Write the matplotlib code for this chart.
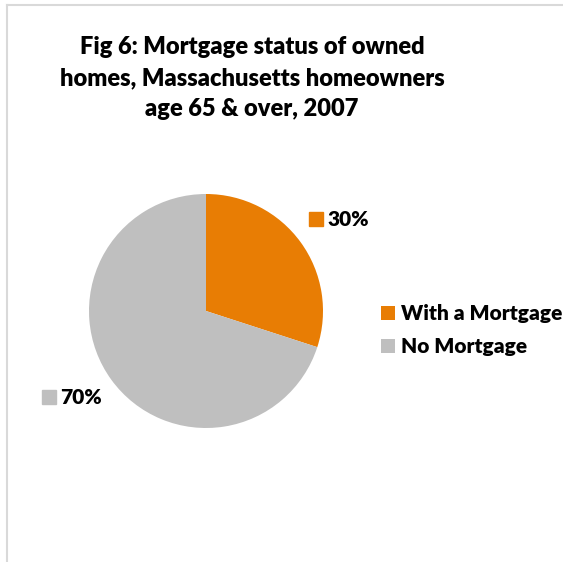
import matplotlib.pyplot as plt
from matplotlib.patches import Rectangle
from matplotlib.lines import Line2D

# Data
categories = ['With a Mortgage', 'No Mortgage']
shares = [30, 70]
share_labels = ['30%', '70%']
colors = ['#E87D04', '#BFBFBF']

plt.rcParams['font.family'] = ['Lato', 'DejaVu Sans']
WEIGHT = 'heavy'

W, H = 563, 562
fig = plt.figure(figsize=(W / 100, H / 100), dpi=100)

def fx(x):
    return x / W

def fy(y):
    return 1 - y / H

# light frame of the chart area
fig.add_artist(Line2D([fx(7), 1], [fy(5), fy(5)], color='#D9D9D9', lw=1.5))
fig.add_artist(Line2D([fx(7), fx(7)], [fy(5), 0], color='#D9D9D9', lw=1.5))

# Title
title = 'Fig 6: Mortgage status of owned\nhomes, Massachusetts homeowners\nage 65 & over, 2007'
fig.text(fx(252), fy(78), title, ha='center', va='center', fontsize=17,
         fontweight=WEIGHT, linespacing=1.5)

# Pie
cx, cy, r = 206, 311, 117
ax = fig.add_axes([fx(cx - r), fy(cy + r), fx(2 * r), (2 * r) / H])
wedges, _ = ax.pie(shares, colors=colors, startangle=90, counterclock=False,
                   radius=1, wedgeprops=dict(linewidth=0))
ax.set_xlim(-1, 1)
ax.set_ylim(-1, 1)
ax.set_aspect('equal')
ax.axis('off')

# Data labels with colour keys
label_pos = [(309, 219), (42, 397)]
for (x, y), lab, c in zip(label_pos, share_labels, colors):
    fig.add_artist(Rectangle((fx(x), fy(y + 7)), fx(14), 14 / H, color=c,
                             transform=fig.transFigure))
    fig.text(fx(x + 18), fy(y), lab, ha='left', va='center', fontsize=15,
             fontweight=WEIGHT)

# Legend
leg = fig.legend(wedges, categories, loc='center left',
                 bbox_to_anchor=(fx(381), fy(330)), frameon=False,
                 prop=dict(size=15, weight=WEIGHT), handlelength=0.67,
                 handleheight=0.67, handletextpad=0.3, labelspacing=0.68,
                 borderpad=0, borderaxespad=0)

fig.savefig('out.png', dpi=100)
